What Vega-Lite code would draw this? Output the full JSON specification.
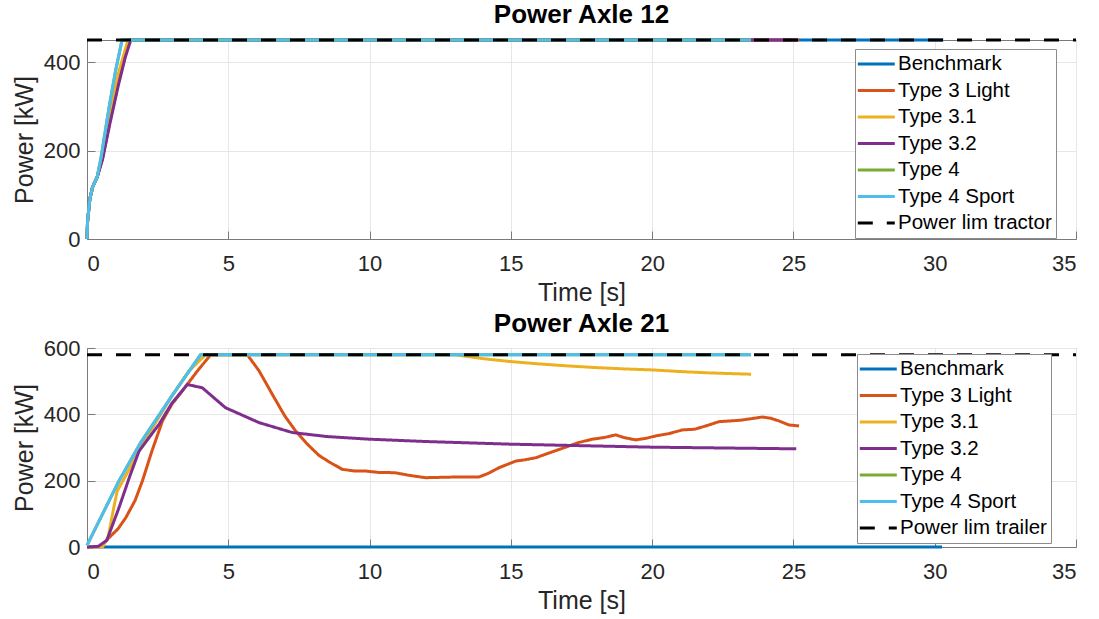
{
  "$schema": "https://vega.github.io/schema/vega-lite/v6.json",
  "padding": {"left": 11, "top": 1, "right": 0, "bottom": 0},
  "background": "white",
  "config": {
    "font": "Liberation Sans",
    "view": {"stroke": "#7a7a7a", "strokeWidth": 1},
    "title": {"font": "Liberation Sans", "fontSize": 26, "fontWeight": "bold", "color": "#000000", "baseline": "alphabetic", "offset": 6},
    "axis": {
      "labelFont": "Liberation Sans", "labelFontSize": 22, "labelColor": "#262626",
      "titleFont": "Liberation Sans", "titleFontSize": 25, "titleFontWeight": "normal", "titleColor": "#262626",
      "gridColor": "#e6e6e6", "gridWidth": 1, "domainColor": "#7a7a7a", "ticks": true, "tickSize": -8, "tickColor": "#7a7a7a"
    },
    "axisX": {"labelPadding": 22, "titlePadding": 6},
    "axisY": {"labelPadding": 15, "titlePadding": 6},
    "legend": {
      "labelFont": "Liberation Sans", "labelFontSize": 20.5, "labelColor": "#000000",
      "fillColor": "white", "strokeColor": "#8c8c8c", "padding": 4,
      "symbolType": "M-1.32,0L2.68,0", "symbolSize": 342, "symbolStrokeWidth": 3, "labelOffset": 17, "rowPadding": 4.5
    }
  },
  "datasets": {
    "a12": [
      {"s":"Benchmark","t":0,"P":0},{"s":"Benchmark","t":0.02,"P":40},{"s":"Benchmark","t":0.1,"P":90},{"s":"Benchmark","t":0.2,"P":118},{"s":"Benchmark","t":0.36,"P":140},{"s":"Benchmark","t":0.55,"P":185},{"s":"Benchmark","t":0.8,"P":265},{"s":"Benchmark","t":1.1,"P":360},{"s":"Benchmark","t":1.5,"P":450},{"s":"Benchmark","t":30.3,"P":450},
      {"s":"Type 3 Light","t":0,"P":0},{"s":"Type 3 Light","t":0.02,"P":40},{"s":"Type 3 Light","t":0.1,"P":90},{"s":"Type 3 Light","t":0.2,"P":118},{"s":"Type 3 Light","t":0.36,"P":140},{"s":"Type 3 Light","t":0.55,"P":183},{"s":"Type 3 Light","t":0.8,"P":262},{"s":"Type 3 Light","t":1.1,"P":350},{"s":"Type 3 Light","t":1.3,"P":400},{"s":"Type 3 Light","t":1.5,"P":450},{"s":"Type 3 Light","t":25.2,"P":450},
      {"s":"Type 3.1","t":0,"P":0},{"s":"Type 3.1","t":0.02,"P":40},{"s":"Type 3.1","t":0.1,"P":90},{"s":"Type 3.1","t":0.2,"P":118},{"s":"Type 3.1","t":0.36,"P":140},{"s":"Type 3.1","t":0.55,"P":190},{"s":"Type 3.1","t":0.8,"P":275},{"s":"Type 3.1","t":1.1,"P":372},{"s":"Type 3.1","t":1.45,"P":450},{"s":"Type 3.1","t":23.5,"P":450},
      {"s":"Type 3.2","t":0,"P":0},{"s":"Type 3.2","t":0.02,"P":40},{"s":"Type 3.2","t":0.1,"P":90},{"s":"Type 3.2","t":0.2,"P":118},{"s":"Type 3.2","t":0.36,"P":140},{"s":"Type 3.2","t":0.55,"P":180},{"s":"Type 3.2","t":0.8,"P":258},{"s":"Type 3.2","t":1.1,"P":345},{"s":"Type 3.2","t":1.35,"P":410},{"s":"Type 3.2","t":1.55,"P":450},{"s":"Type 3.2","t":25.1,"P":450},
      {"s":"Type 4","t":0,"P":0},{"s":"Type 4","t":0.02,"P":40},{"s":"Type 4","t":0.1,"P":90},{"s":"Type 4","t":0.2,"P":118},{"s":"Type 4","t":0.36,"P":140},{"s":"Type 4","t":0.5,"P":185},{"s":"Type 4","t":0.78,"P":297},{"s":"Type 4","t":1.01,"P":380},{"s":"Type 4","t":1.24,"P":450},{"s":"Type 4","t":23.5,"P":450},
      {"s":"Type 4 Sport","t":0,"P":0},{"s":"Type 4 Sport","t":0.02,"P":40},{"s":"Type 4 Sport","t":0.1,"P":90},{"s":"Type 4 Sport","t":0.2,"P":118},{"s":"Type 4 Sport","t":0.36,"P":140},{"s":"Type 4 Sport","t":0.5,"P":185},{"s":"Type 4 Sport","t":0.78,"P":297},{"s":"Type 4 Sport","t":1.01,"P":380},{"s":"Type 4 Sport","t":1.24,"P":450},{"s":"Type 4 Sport","t":23.5,"P":450},
      {"s":"Power lim tractor","t":0,"P":450},{"s":"Power lim tractor","t":35,"P":450}
    ],
    "a21": [
      {"s":"Benchmark","t":0,"P":0},{"s":"Benchmark","t":30.26,"P":0},
      {"s":"Type 3 Light","t":0,"P":0},{"s":"Type 3 Light","t":0.5,"P":2},{"s":"Type 3 Light","t":0.78,"P":28},{"s":"Type 3 Light","t":1.1,"P":55},{"s":"Type 3 Light","t":1.37,"P":88},{"s":"Type 3 Light","t":1.7,"P":140},{"s":"Type 3 Light","t":1.96,"P":199},{"s":"Type 3 Light","t":2.3,"P":290},{"s":"Type 3 Light","t":2.67,"P":380},{"s":"Type 3 Light","t":3.0,"P":430},{"s":"Type 3 Light","t":3.37,"P":470},{"s":"Type 3 Light","t":3.9,"P":530},{"s":"Type 3 Light","t":4.38,"P":580},{"s":"Type 3 Light","t":5.67,"P":580},{"s":"Type 3 Light","t":6.09,"P":531},{"s":"Type 3 Light","t":6.56,"P":460},{"s":"Type 3 Light","t":7.0,"P":395},{"s":"Type 3 Light","t":7.38,"P":350},{"s":"Type 3 Light","t":7.8,"P":310},{"s":"Type 3 Light","t":8.21,"P":276},{"s":"Type 3 Light","t":8.6,"P":255},{"s":"Type 3 Light","t":9.04,"P":234},{"s":"Type 3 Light","t":9.5,"P":229},{"s":"Type 3 Light","t":9.86,"P":229},{"s":"Type 3 Light","t":10.3,"P":225},{"s":"Type 3 Light","t":10.9,"P":224},{"s":"Type 3 Light","t":11.4,"P":216},{"s":"Type 3 Light","t":11.98,"P":209},{"s":"Type 3 Light","t":12.5,"P":210},{"s":"Type 3 Light","t":13.05,"P":211},{"s":"Type 3 Light","t":13.87,"P":211},{"s":"Type 3 Light","t":14.2,"P":222},{"s":"Type 3 Light","t":14.58,"P":239},{"s":"Type 3 Light","t":15.17,"P":259},{"s":"Type 3 Light","t":15.5,"P":263},{"s":"Type 3 Light","t":15.88,"P":269},{"s":"Type 3 Light","t":16.4,"P":285},{"s":"Type 3 Light","t":16.94,"P":301},{"s":"Type 3 Light","t":17.4,"P":315},{"s":"Type 3 Light","t":17.88,"P":325},{"s":"Type 3 Light","t":18.3,"P":330},{"s":"Type 3 Light","t":18.71,"P":338},{"s":"Type 3 Light","t":19.0,"P":330},{"s":"Type 3 Light","t":19.42,"P":323},{"s":"Type 3 Light","t":19.8,"P":328},{"s":"Type 3 Light","t":20.13,"P":335},{"s":"Type 3 Light","t":20.6,"P":342},{"s":"Type 3 Light","t":21.07,"P":353},{"s":"Type 3 Light","t":21.5,"P":355},{"s":"Type 3 Light","t":21.9,"P":365},{"s":"Type 3 Light","t":22.37,"P":378},{"s":"Type 3 Light","t":23.1,"P":382},{"s":"Type 3 Light","t":23.6,"P":388},{"s":"Type 3 Light","t":23.9,"P":392},{"s":"Type 3 Light","t":24.2,"P":388},{"s":"Type 3 Light","t":24.49,"P":380},{"s":"Type 3 Light","t":24.84,"P":368},{"s":"Type 3 Light","t":25.2,"P":365},
      {"s":"Type 3.1","t":0,"P":0},{"s":"Type 3.1","t":0.55,"P":0},{"s":"Type 3.1","t":0.75,"P":30},{"s":"Type 3.1","t":0.95,"P":120},{"s":"Type 3.1","t":1.07,"P":169},{"s":"Type 3.1","t":1.5,"P":235},{"s":"Type 3.1","t":1.9,"P":299},{"s":"Type 3.1","t":2.5,"P":385},{"s":"Type 3.1","t":3.0,"P":455},{"s":"Type 3.1","t":3.6,"P":530},{"s":"Type 3.1","t":4.2,"P":580},{"s":"Type 3.1","t":13,"P":580},{"s":"Type 3.1","t":14,"P":568},{"s":"Type 3.1","t":15,"P":559},{"s":"Type 3.1","t":16,"P":552},{"s":"Type 3.1","t":17,"P":546},{"s":"Type 3.1","t":18,"P":541},{"s":"Type 3.1","t":19,"P":537},{"s":"Type 3.1","t":20,"P":534},{"s":"Type 3.1","t":21,"P":529},{"s":"Type 3.1","t":22,"P":525},{"s":"Type 3.1","t":23.5,"P":521},
      {"s":"Type 3.2","t":0,"P":0},{"s":"Type 3.2","t":0.4,"P":2},{"s":"Type 3.2","t":0.7,"P":20},{"s":"Type 3.2","t":1.13,"P":118},{"s":"Type 3.2","t":1.5,"P":210},{"s":"Type 3.2","t":1.84,"P":289},{"s":"Type 3.2","t":2.55,"P":370},{"s":"Type 3.2","t":3.0,"P":433},{"s":"Type 3.2","t":3.55,"P":490},{"s":"Type 3.2","t":4.08,"P":480},{"s":"Type 3.2","t":4.9,"P":420},{"s":"Type 3.2","t":6.09,"P":375},{"s":"Type 3.2","t":7.27,"P":345},{"s":"Type 3.2","t":8.5,"P":333},{"s":"Type 3.2","t":10,"P":325},{"s":"Type 3.2","t":12,"P":318},{"s":"Type 3.2","t":15,"P":310},{"s":"Type 3.2","t":20,"P":301},{"s":"Type 3.2","t":25.1,"P":296},
      {"s":"Type 4","t":0,"P":5},{"s":"Type 4","t":1.13,"P":199},{"s":"Type 4","t":1.9,"P":315},{"s":"Type 4","t":3.0,"P":455},{"s":"Type 4","t":4.02,"P":580},{"s":"Type 4","t":23.5,"P":580},
      {"s":"Type 4 Sport","t":0,"P":5},{"s":"Type 4 Sport","t":1.13,"P":199},{"s":"Type 4 Sport","t":1.9,"P":315},{"s":"Type 4 Sport","t":3.0,"P":455},{"s":"Type 4 Sport","t":4.02,"P":580},{"s":"Type 4 Sport","t":23.5,"P":580},
      {"s":"Power lim trailer","t":0,"P":580},{"s":"Power lim trailer","t":35,"P":580}
    ]
  },
  "spacing": 4,
  "vconcat": [
    {
      "title": {"text": "Power Axle 12", "offset": 6},
      "width": 989, "height": 199,
      "data": {"name": "a12"},
      "mark": {"type": "line", "strokeWidth": 3},
      "encoding": {
        "x": {"field": "t", "type": "quantitative", "scale": {"domain": [0, 35], "nice": false}, "axis": {"values": [0,5,10,15,20,25,30,35], "title": "Time [s]"}},
        "y": {"field": "P", "type": "quantitative", "scale": {"domain": [0, 450], "nice": false}, "axis": {"values": [0,200,400], "title": "Power [kW]"}},
        "color": {"field": "s", "type": "nominal", "scale": {"domain": ["Benchmark","Type 3 Light","Type 3.1","Type 3.2","Type 4","Type 4 Sport","Power lim tractor"], "range": ["#0072BD","#D95319","#EDB120","#7E2F8E","#77AC30","#4DBEEE","#000000"]}, "legend": {"title": null, "orient": "none", "legendX": 768, "legendY": 9}},
        "strokeDash": {"field": "s", "type": "nominal", "scale": {"domain": ["Benchmark","Type 3 Light","Type 3.1","Type 3.2","Type 4","Type 4 Sport","Power lim tractor"], "range": [[1,0],[1,0],[1,0],[1,0],[1,0],[1,0],[15,14]]}, "legend": {"title": null, "orient": "none", "legendX": 768, "legendY": 9}},
        "opacity": {"field": "s", "type": "nominal", "scale": {"domain": ["Benchmark","Type 3 Light","Type 3.1","Type 3.2","Type 4","Type 4 Sport","Power lim tractor"], "range": [1,1,1,1,1,1,0.7]}, "legend": {"title": null, "orient": "none", "legendX": 768, "legendY": 9}}
      }
    },
    {
      "title": {"text": "Power Axle 21", "offset": 0},
      "width": 989, "height": 199,
      "data": {"name": "a21"},
      "mark": {"type": "line", "strokeWidth": 3},
      "encoding": {
        "x": {"field": "t", "type": "quantitative", "scale": {"domain": [0, 35], "nice": false}, "axis": {"values": [0,5,10,15,20,25,30,35], "title": "Time [s]"}},
        "y": {"field": "P", "type": "quantitative", "scale": {"domain": [0, 600], "nice": false}, "axis": {"values": [0,200,400,600], "title": "Power [kW]"}},
        "color": {"field": "s", "type": "nominal", "scale": {"domain": ["Benchmark","Type 3 Light","Type 3.1","Type 3.2","Type 4","Type 4 Sport","Power lim trailer"], "range": ["#0072BD","#D95319","#EDB120","#7E2F8E","#77AC30","#4DBEEE","#000000"]}, "legend": {"title": null, "orient": "none", "legendX": 770, "legendY": 6}},
        "strokeDash": {"field": "s", "type": "nominal", "scale": {"domain": ["Benchmark","Type 3 Light","Type 3.1","Type 3.2","Type 4","Type 4 Sport","Power lim trailer"], "range": [[1,0],[1,0],[1,0],[1,0],[1,0],[1,0],[15,14]]}, "legend": {"title": null, "orient": "none", "legendX": 770, "legendY": 6}},
        "opacity": {"field": "s", "type": "nominal", "scale": {"domain": ["Benchmark","Type 3 Light","Type 3.1","Type 3.2","Type 4","Type 4 Sport","Power lim trailer"], "range": [1,1,1,1,1,1,0.7]}, "legend": {"title": null, "orient": "none", "legendX": 770, "legendY": 6}}
      }
    }
  ],
  "resolve": {
    "scale": {"color": "independent", "strokeDash": "independent", "opacity": "independent"},
    "legend": {"color": "independent", "strokeDash": "independent", "opacity": "independent"}
  }
}
